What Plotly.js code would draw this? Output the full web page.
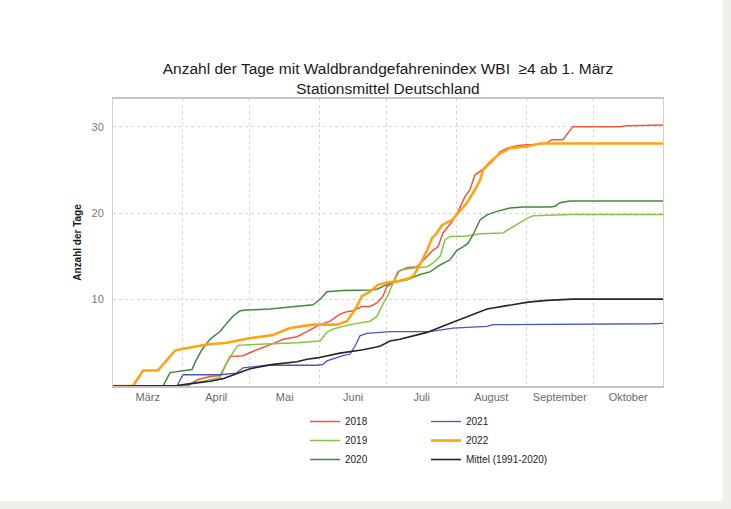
<!DOCTYPE html>
<html>
<head>
<meta charset="utf-8">
<script src="https://cdn.plot.ly/plotly-3.0.1.min.js"></script>
<style>
  html, body { margin: 0; padding: 0; background: #eef1ea; }
  #chart { position: absolute; left: 0; top: 0; width: 723px; height: 501px; background: #ffffff; }
</style>
</head>
<body>
<div id="chart"></div>
<script>
// Days counted from 1 March; values = number of days with WBI >= 4
const names = ['2018', '2019', '2020', '2021', '2022', 'Mittel (1991-2020)'];

const days2018 = [0, 33, 34.3, 37.9, 43.2, 47.7, 49.9, 52.1, 57.9, 64.1, 71.3, 75.7, 82, 87.8, 92.2, 96.7, 101.1, 104.2, 106.9, 110.9, 114.5, 117.6, 120.3, 122, 124.7, 126.9, 131, 135.4, 137.6, 139.9, 142.5, 144.8, 147, 151, 153.7, 156.8, 159, 161.2, 163.5, 166.6, 169.3, 172.4, 175.5, 180, 184.4, 187.1, 193.3, 195.5, 200.4, 204.9, 225.8, 228.9, 245];
const vals2018 = [0, 0, 0.2, 0.75, 1.1, 1.2, 2.3, 3.4, 3.5, 4.2, 4.9, 5.4, 5.7, 6.5, 7.1, 7.5, 8.3, 8.6, 8.7, 9.2, 9.2, 9.6, 10.4, 11.5, 11.9, 13.2, 13.7, 13.8, 14.4, 15.0, 15.7, 16.1, 17.7, 19.0, 20.2, 21.9, 22.7, 24.4, 24.8, 25.4, 26.1, 27.1, 27.5, 27.8, 27.9, 27.9, 28.1, 28.5, 28.5, 30.0, 30.0, 30.1, 30.2];

const days2019 = [0, 30.7, 31.5, 40.1, 47.7, 50.8, 53.5, 55.7, 62.4, 82, 92.2, 95.3, 98, 105.6, 114.5, 117.6, 120.3, 122.5, 124.7, 127.8, 132.3, 139.9, 142.5, 145.7, 147.9, 150.1, 157.7, 163.5, 173.7, 176.8, 181.3, 184.4, 187.1, 196.9, 203.6, 245];
const vals2019 = [0, 0, 0.15, 0.55, 1.0, 2.7, 3.9, 4.7, 4.8, 5.0, 5.2, 6.2, 6.6, 7.1, 7.5, 8.05, 9.5, 10.5, 11.9, 13.4, 13.6, 13.8, 14.2, 15.0, 16.9, 17.3, 17.35, 17.6, 17.7, 18.2, 19.0, 19.4, 19.7, 19.75, 19.85, 19.85];

const days2020 = [0, 22.3, 25.4, 35.2, 36.5, 39.6, 43.2, 47.7, 50.8, 53.5, 56.6, 59.7, 69.9, 82, 89.1, 92.2, 95.3, 102.4, 114.5, 117.6, 123.4, 131, 136.7, 141.2, 145.7, 150.1, 153.2, 155.9, 158.1, 160.4, 163.5, 166.6, 171, 176.8, 182.6, 194.7, 196.9, 199.1, 203.6, 245];
const vals2020 = [0, 0, 1.55, 1.9, 2.7, 4.2, 5.4, 6.3, 7.3, 8.1, 8.7, 8.8, 8.9, 9.2, 9.4, 10.0, 10.9, 11.05, 11.1, 11.2, 11.9, 12.3, 12.9, 13.2, 14.0, 14.6, 15.7, 16.1, 16.5, 17.5, 19.2, 19.8, 20.2, 20.6, 20.7, 20.7, 20.8, 21.2, 21.4, 21.4];

const days2021 = [0, 28.5, 31.2, 47.7, 55, 57.9, 68.6, 90.9, 93.5, 95.3, 102.4, 105.6, 107.8, 110, 113.1, 123.4, 141.2, 151.4, 166.6, 169.3, 240, 245];
const vals2021 = [0, 0, 1.3, 1.3, 1.5, 2.1, 2.4, 2.4, 2.5, 2.9, 3.5, 3.7, 4.6, 5.8, 6.1, 6.3, 6.3, 6.7, 6.9, 7.1, 7.2, 7.25];

const days2022 = [0, 8.9, 13.4, 20, 27.6, 31.2, 41.9, 50.8, 60.1, 71.3, 78.8, 89.1, 99.8, 104.2, 107.8, 110.9, 114.5, 118, 122.5, 126.5, 132.3, 134, 136.7, 139.9, 142.1, 144.3, 146.5, 148.8, 151, 153.7, 157.7, 161.2, 163.5, 164.8, 167.9, 172.4, 176.8, 184.4, 190.2, 245];
const vals2022 = [0, 0, 1.8, 1.8, 4.1, 4.3, 4.8, 5.0, 5.5, 5.9, 6.7, 7.1, 7.1, 7.5, 8.8, 10.4, 10.9, 11.7, 12.0, 12.1, 12.5, 12.8, 14.0, 15.7, 17.1, 17.7, 18.6, 18.9, 19.2, 20.0, 21.2, 22.7, 23.8, 25.0, 25.9, 26.9, 27.5, 27.7, 28.05, 28.05];

const daysMittel = [0, 20, 28.5, 35.6, 43.2, 49, 55.2, 61, 71.3, 82, 86.4, 90.9, 101.1, 111.4, 118.9, 123.4, 127.8, 139.9, 148.8, 157.7, 166.6, 175.5, 184.9, 193.3, 204.9, 245];
const valsMittel = [0, 0, 0.05, 0.3, 0.55, 0.85, 1.45, 2.0, 2.5, 2.8, 3.1, 3.25, 3.8, 4.2, 4.6, 5.2, 5.4, 6.2, 7.1, 8.0, 8.9, 9.3, 9.7, 9.9, 10.05, 10.05];

const yTickVals = [10, 20, 30];
const monthNames = ['Januar', 'Februar', 'März', 'April', 'Mai', 'Juni', 'Juli', 'August', 'September', 'Oktober', 'November', 'Dezember'];

Plotly.register({
  moduleType: 'locale',
  name: 'de',
  dictionary: {},
  format: {
    days: ['Sonntag', 'Montag', 'Dienstag', 'Mittwoch', 'Donnerstag', 'Freitag', 'Samstag'],
    shortDays: ['So', 'Mo', 'Di', 'Mi', 'Do', 'Fr', 'Sa'],
    months: monthNames,
    shortMonths: ['Jan', 'Feb', 'Mär', 'Apr', 'Mai', 'Jun', 'Jul', 'Aug', 'Sep', 'Okt', 'Nov', 'Dez'],
    date: '%d.%m.%Y',
    decimal: ',',
    thousands: '.'
  }
});

const start = Date.UTC(2022, 2, 1);
function toDate(d) {
  return new Date(start + d * 86400000).toISOString().replace('T', ' ').slice(0, 19);
}

const series = [
  { name: names[0], x: days2018, y: vals2018, color: '#f0553f', width: 1.5, legend: 'legend' },
  { name: names[1], x: days2019, y: vals2019, color: '#86c443', width: 1.5, legend: 'legend' },
  { name: names[2], x: days2020, y: vals2020, color: '#3f8a3a', width: 1.5, legend: 'legend' },
  { name: names[3], x: days2021, y: vals2021, color: '#4759b8', width: 1.3, legend: 'legend2' },
  { name: names[4], x: days2022, y: vals2022, color: '#ffa412', width: 2.6, legend: 'legend2' },
  { name: names[5], x: daysMittel, y: valsMittel, color: '#262626', width: 1.6, legend: 'legend2' }
];

const traces = series.map(s => ({
  type: 'scatter',
  mode: 'lines',
  name: s.name,
  x: s.x.map(toDate),
  y: s.y,
  line: { color: s.color, width: s.width },
  legend: s.legend,
  hoverinfo: 'x+y+name'
}));

const fontFam = '"Liberation Sans", Arial, Helvetica, sans-serif';

const layout = {
  width: 723,
  height: 501,
  paper_bgcolor: '#ffffff',
  plot_bgcolor: '#ffffff',
  margin: { l: 113, r: 60, t: 99, b: 115 },
  font: { family: fontFam, color: '#222' },
  title: {
    text: 'Anzahl der Tage mit Waldbrandgefahrenindex WBI  ≥4 ab 1. März<br>Stationsmittel Deutschland',
    font: { family: fontFam, size: 15.5, color: '#1a1a1a' },
    x: 0.5,
    xref: 'paper',
    xanchor: 'center',
    y: 1 - 74 / 501,
    yref: 'container',
    yanchor: 'top'
  },
  xaxis: {
    type: 'date',
    range: [toDate(0), toDate(245)],
    tick0: toDate(0),
    dtick: 'M1',
    tickformat: '%B',
    ticklabelmode: 'period',
    ticks: '',
    showgrid: true,
    gridcolor: '#d6d6d6',
    griddash: 'dot',
    gridwidth: 1,
    showline: true,
    linecolor: '#c4c4c4',
    linewidth: 1.5,
    mirror: true,
    zeroline: false,
    tickfont: { family: fontFam, size: 11, color: '#6a6a6a' }
  },
  yaxis: {
    range: [0, 33.2],
    tickvals: yTickVals,
    ticks: '',
    ticklabelstandoff: 6,
    showgrid: true,
    gridcolor: '#d6d6d6',
    griddash: 'dot',
    gridwidth: 1,
    showline: true,
    linecolor: '#cfcfcf',
    linewidth: 1,
    mirror: true,
    zeroline: false,
    tickfont: { family: fontFam, size: 11, color: '#777' },
    title: {
      text: '<b>Anzahl der Tage</b>',
      font: { family: fontFam, size: 10, color: '#1a1a1a' },
      standoff: 8
    }
  },
  showlegend: true,
  legend: {
    x: (305 - 113) / 550,
    xanchor: 'left',
    y: -21 / 287,
    yanchor: 'top',
    orientation: 'v',
    bgcolor: 'rgba(0,0,0,0)',
    font: { family: fontFam, size: 10, color: '#222' },
    itemwidth: 30
  },
  legend2: {
    x: (426 - 113) / 550,
    xanchor: 'left',
    y: -21 / 287,
    yanchor: 'top',
    orientation: 'v',
    bgcolor: 'rgba(0,0,0,0)',
    font: { family: fontFam, size: 10, color: '#222' },
    itemwidth: 30
  }
};

Plotly.newPlot('chart', traces, layout, { locale: 'de', displayModeBar: false });
</script>
</body>
</html>
